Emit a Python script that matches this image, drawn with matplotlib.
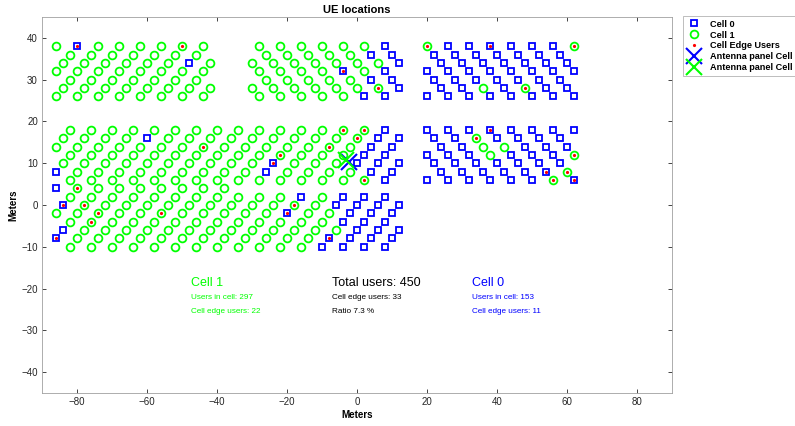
import matplotlib
matplotlib.use('Agg')
import matplotlib.pyplot as plt

plt.rcParams['font.family'] = ['Liberation Sans', 'DejaVu Sans']

# ---------------- data ----------------
# Block A (top-left)
blockA_y = [38, 36, 34, 32, 30, 28, 26]
blockA_cell1 = [[-86, -74, -68, -62, -56, -50, -44],
                [-82, -76, -70, -64, -58, -52, -46],
                [-84, -78, -72, -66, -60, -54, -42],
                [-86, -80, -74, -68, -62, -56, -50, -44],
                [-82, -76, -70, -64, -58, -52, -46],
                [-84, -78, -72, -66, -60, -54, -48, -42],
                [-86, -80, -74, -68, -62, -56, -50, -44]]
blockA_cell0 = [[-80], [], [-48], [], [], [], []]

# Block B (top-middle)
blockB_y = [38, 36, 34, 32, 30, 28, 26]
blockB_cell1 = [[-28, -22, -16, -10, -4, 2],
                [-26, -20, -14, -8, -2],
                [-30, -24, -18, -12, -6, 0, 6],
                [-28, -22, -16, -10, 2],
                [-26, -20, -14, -8, -2],
                [-30, -24, -18, -12, -6, 0, 6],
                [-28, -22, -16, -10, -4]]
blockB_cell0 = [[8], [4, 10], [12], [-4, 8], [4, 10], [12], [2, 8]]

# Block C (top-right)
blockC_y = [38, 36, 34, 32, 30, 28, 26]
blockC_cell1 = [[20, 62], [], [], [], [], [36, 48], []]
blockC_cell0 = [[26, 32, 38, 44, 50, 56],
                [22, 28, 34, 40, 46, 52, 58],
                [24, 30, 36, 42, 48, 54, 60],
                [20, 26, 32, 38, 44, 50, 56, 62],
                [22, 28, 34, 40, 46, 52, 58],
                [24, 30, 42, 54, 60],
                [20, 26, 32, 38, 44, 50, 56, 62]]

# Block E (middle-right)
blockE_y = [18, 16, 14, 12, 10, 8, 6]
blockE_cell1 = [[], [34], [36, 42], [38, 62], [], [60], [56]]
blockE_cell0 = [[20, 26, 32, 38, 44, 50, 56, 62],
                [22, 28, 40, 46, 52, 58],
                [24, 30, 48, 54, 60],
                [20, 26, 32, 44, 50, 56],
                [22, 28, 34, 40, 46, 52, 58],
                [24, 30, 36, 42, 48, 54],
                [20, 26, 32, 38, 44, 50, 62]]

# Middle band (left / centre)
blockM_y = [18, 16, 14, 12, 10, 8, 6]
blockM_cell1 = [[-82, -76, -70, -64, -58, -52, -46, -40, -34, -28, -22, -16, -10, -4, 2],
                [-84, -78, -72, -66, -54, -48, -42, -36, -30, -24, -18, -12, -6, 0],
                [-86, -80, -74, -68, -62, -56, -50, -44, -38, -32, -26, -20, -14, -8, -2],
                [-82, -76, -70, -64, -58, -52, -46, -40, -34, -28, -22, -16, -10, -4],
                [-84, -78, -72, -66, -60, -54, -48, -42, -36, -30, -18, -12, -6],
                [-80, -74, -68, -62, -56, -50, -44, -38, -32, -20, -14, -8, -2],
                [-82, -76, -70, -64, -58, -52, -46, -40, -34, -28, -22, -16, -10, -4, 2]]
blockM_cell0 = [[8], [-60, 6, 12], [4, 10], [2, 8], [-24, 0, 6, 12], [-86, -26, 4, 10], [8]]

# Lower band (left / centre)
blockL_y = [4, 2, 0, -2, -4, -6, -8, -10]
blockL_cell1 = [[-80, -74, -68, -62, -56, -50, -44, -38],
                [-82, -76, -70, -64, -58, -52, -46, -40, -34, -28, -22, -10],
                [-78, -72, -66, -60, -54, -48, -42, -36, -30, -24, -18, -12],
                [-86, -80, -74, -68, -62, -56, -50, -44, -38, -32, -26, -14, -8],
                [-82, -76, -70, -64, -58, -52, -46, -40, -34, -28, -22, -16, -10],
                [-78, -72, -66, -60, -54, -48, -42, -36, -30, -24, -18, -12, -6],
                [-80, -74, -68, -62, -56, -50, -44, -38, -32, -26, -20, -14],
                [-82, -76, -70, -64, -58, -52, -46, -40, -34, -28, -22, -16]]
blockL_cell0 = [[-86], [-16, -4, 2, 8], [-84, -6, 0, 6, 12], [-20, -2, 4, 10],
                [-4, 2, 8], [-84, 0, 6, 12], [-86, -8, -2, 4, 10], [-10, -4, 2, 8]]

# Cell edge users
edge_x = [-80, -50, -4, 6, 20, 38, 62, 48, 38, 34, 62, 54, 60, 56, 62,
          -24, -44, -22, -4, 2, 0, -8, 2,
          -80, -84, -78, -74, -76, -86, -56, -18, -20, -8]
edge_y = [38, 38, 32, 28, 38, 38, 38, 28, 18, 16, 12, 8, 8, 6, 6,
          10, 14, 12, 18, 18, 16, 14, 6,
          4, 0, 0, -2, -4, -8, -2, 0, -2, -8]

# Antenna panels
ant0_xy = (-2.4, 10.4)
ant1_xy = (-3.2, 10.8)

# Summary texts
cell1_users, cell1_edge = 297, 22
cell0_users, cell0_edge = 153, 11
total_users, total_edge = 450, 33
ratio_pct = 7.3


def flatten(ys, rows):
    xs_out, ys_out = [], []
    for y, row in zip(ys, rows):
        for x in row:
            xs_out.append(x)
            ys_out.append(y)
    return xs_out, ys_out


blocks = [(blockA_y, blockA_cell0, blockA_cell1),
          (blockB_y, blockB_cell0, blockB_cell1),
          (blockC_y, blockC_cell0, blockC_cell1),
          (blockE_y, blockE_cell0, blockE_cell1),
          (blockM_y, blockM_cell0, blockM_cell1),
          (blockL_y, blockL_cell0, blockL_cell1)]
c0x, c0y, c1x, c1y = [], [], [], []
for ys, r0, r1 in blocks:
    a, b = flatten(ys, r0)
    c0x += a; c0y += b
    a, b = flatten(ys, r1)
    c1x += a; c1y += b

BLUE = '#0000FF'
GREEN = '#00FF00'
RED = '#FF0000'

fig = plt.figure(figsize=(7.95, 4.26), dpi=100)
ax = fig.add_axes([42 / 795, 33 / 426, 630 / 795, 376 / 426])

ax.plot(c0x, c0y, linestyle='none', marker='s', ms=4.8, mfc='none',
        mec=BLUE, mew=1.3, label='Cell 0')
ax.plot(c1x, c1y, linestyle='none', marker='o', ms=5.6, mfc='none',
        mec=GREEN, mew=1.3, label='Cell 1')
ax.plot(edge_x, edge_y, linestyle='none', marker='o', ms=2.3, mfc=RED,
        mec='none', label='Cell Edge Users')
ax.plot([ant0_xy[0]], [ant0_xy[1]], linestyle='none', marker='x', ms=11,
        mec=BLUE, mew=1.5, label='Antenna panel Cell 0')
ax.plot([ant1_xy[0]], [ant1_xy[1]], linestyle='none', marker='x', ms=11,
        mec=GREEN, mew=1.5, label='Antenna panel Cell 1')

ax.set_xlim(-90, 90)
ax.set_ylim(-45, 45)
ax.set_xticks([-80, -60, -40, -20, 0, 20, 40, 60, 80])
ax.set_yticks([-40, -30, -20, -10, 0, 10, 20, 30, 40])
ax.tick_params(direction='in', length=3, width=0.6, labelsize=7,
               top=True, right=True, colors='#262626', pad=3)
for s in ax.spines.values():
    s.set_color('#a0a0a0')
    s.set_linewidth(0.6)

ax.set_title('UE locations', fontsize=8, fontweight='bold', pad=3)
ax.set_xlabel('Meters', fontsize=7, fontweight='bold', labelpad=2)
ax.set_ylabel('Meters', fontsize=7, fontweight='bold', labelpad=2)

# annotations
big, small = 9.0, 5.9
ax.text(-47.5, -18.6, 'Cell 1', color=GREEN, fontsize=big, va='center')
ax.text(-47.5, -22.2, f'Users in cell: {cell1_users}', color=GREEN, fontsize=small, va='center')
ax.text(-47.5, -25.6, f'Cell edge users: {cell1_edge}', color=GREEN, fontsize=small, va='center')
ax.text(-7.2, -18.6, f'Total users: {total_users}', color='black', fontsize=big, va='center')
ax.text(-7.2, -22.2, f'Cell edge users: {total_edge}', color='black', fontsize=small, va='center')
ax.text(-7.2, -25.6, f'Ratio {ratio_pct} %', color='black', fontsize=small, va='center')
ax.text(32.8, -18.6, 'Cell 0', color=BLUE, fontsize=big, va='center')
ax.text(32.8, -22.2, f'Users in cell: {cell0_users}', color=BLUE, fontsize=small, va='center')
ax.text(32.8, -25.6, f'Cell edge users: {cell0_edge}', color=BLUE, fontsize=small, va='center')

leg = fig.legend(loc='upper left', bbox_to_anchor=(683 / 795, 1 - 16 / 426),
                 prop={'weight': 'bold', 'size': 6.6},
                 frameon=True, fancybox=False, edgecolor='#a0a0a0',
                 handlelength=1.6, handletextpad=1.0, borderpad=0.4,
                 labelspacing=0.2, borderaxespad=0)
leg.get_frame().set_linewidth(0.6)

fig.savefig('out.png', dpi=100)
